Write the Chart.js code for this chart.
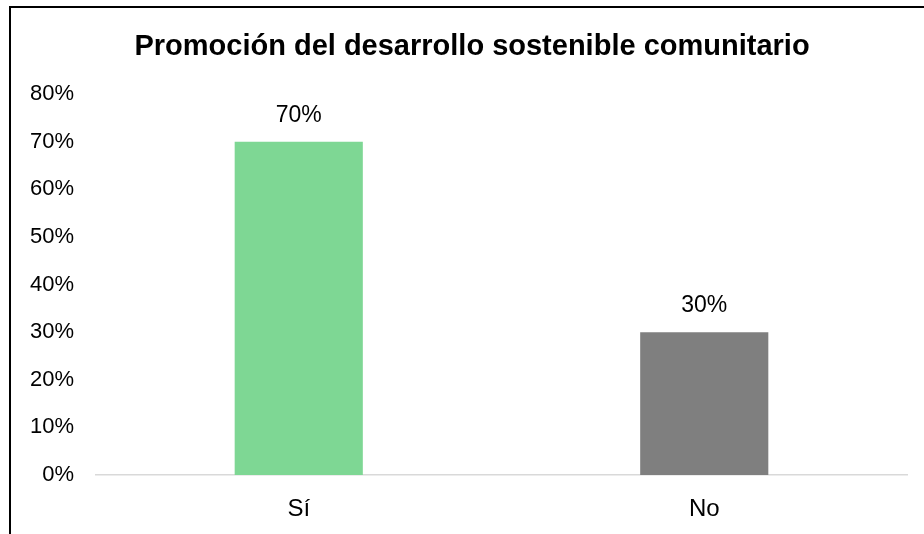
<!DOCTYPE html>
<html>
<head>
<meta charset="utf-8">
<script src="https://cdn.jsdelivr.net/npm/chart.js@4/dist/chart.umd.min.js"></script>
<style>
  html, body { margin: 0; padding: 0; background: #fff; }
  #wrap { position: relative; width: 924px; height: 534px; overflow: hidden; }
  #frame { position: absolute; left: 9px; top: 6px; width: 1000px; height: 1000px;
           border-left: 2px solid #000; border-top: 2px solid #000; box-sizing: border-box; pointer-events: none; }
  canvas { position: absolute; left: 0; top: 0; }
</style>
</head>
<body>
<div id="wrap">
  <canvas id="c" width="924" height="534"></canvas>
  <div id="frame"></div>
</div>
<script>
const titleText = "Promoción del desarrollo sostenible comunitario";
const categories = ["Sí", "No"];
const values = [70, 30];
const barColors = ["#7ED794", "#7F7F7F"];
const yTicks = [0, 10, 20, 30, 40, 50, 60, 70, 80];

const FONT = "'Liberation Sans', Arial, sans-serif";

const dataLabels = {
  id: 'dataLabels',
  afterDatasetsDraw(chart) {
    const ctx = chart.ctx;
    const meta = chart.getDatasetMeta(0);
    ctx.save();
    ctx.font = "23px " + FONT;
    ctx.fillStyle = "#000";
    ctx.textAlign = "center";
    ctx.textBaseline = "middle";
    meta.data.forEach((bar, i) => {
      ctx.fillText(values[i] + "%", bar.x, bar.y - 26);
    });
    ctx.restore();
  }
};

const chartTitle = {
  id: 'chartTitle',
  afterDraw(chart) {
    const ctx = chart.ctx;
    ctx.save();
    ctx.font = "bold 29px " + FONT;
    ctx.fillStyle = "#000";
    ctx.textAlign = "center";
    ctx.textBaseline = "middle";
    ctx.fillText(titleText, 472, 47);
    ctx.restore();
  }
};

new Chart(document.getElementById('c'), {
  type: 'bar',
  data: {
    labels: categories,
    datasets: [{
      data: values,
      backgroundColor: barColors,
      borderWidth: 0,
      barPercentage: 0.316,
      categoryPercentage: 1.0
    }]
  },
  options: {
    responsive: false,
    animation: false,
    devicePixelRatio: 1,
    layout: { padding: { left: 0, right: 17, top: 94, bottom: 0 } },
    plugins: {
      legend: { display: false },
      tooltip: { enabled: false },
      title: { display: false }
    },
    scales: {
      x: {
        grid: { display: false, drawTicks: false },
        border: { display: true, color: "#D9D9D9", width: 1.5 },
        ticks: { color: "#000", font: { family: FONT, size: 24 }, padding: 20 },
        afterFit(scale) { scale.height = 59; }
      },
      y: {
        min: 0, max: 80,
        afterBuildTicks(scale) { scale.ticks = yTicks.map(v => ({ value: v })); },
        grid: { display: false, drawTicks: false },
        border: { display: false },
        ticks: {
          color: "#000",
          font: { family: FONT, size: 22 },
          padding: 22,
          callback: v => v + "%"
        },
        afterFit(scale) { scale.width = 96; }
      }
    }
  },
  plugins: [dataLabels, chartTitle]
});
</script>
</body>
</html>
